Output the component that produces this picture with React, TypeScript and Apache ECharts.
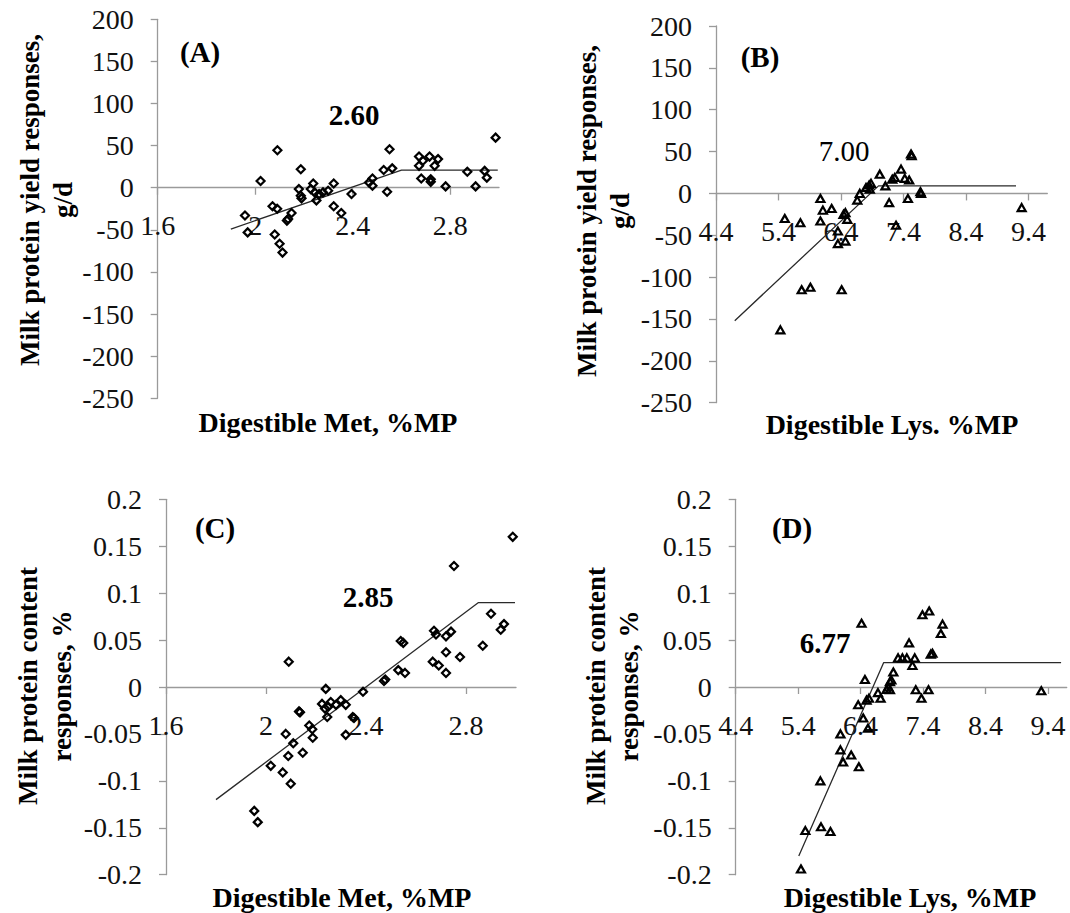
import React, { useEffect, useRef } from "react";
import * as echarts from "echarts";

// (A) Digestible Met vs milk protein yield response (g/d)
const metYieldX = [1.958, 1.969, 2.022, 2.071, 2.09, 2.091, 2.08, 2.1, 2.112, 2.149, 2.135, 2.13, 2.179, 2.187, 2.187, 2.19, 2.238, 2.228, 2.244, 2.251, 2.262, 2.278, 2.299, 2.322, 2.322, 2.353, 2.395, 2.467, 2.481, 2.481, 2.527, 2.541, 2.551, 2.562, 2.672, 2.672, 2.681, 2.688, 2.715, 2.72, 2.72, 2.736, 2.75, 2.781, 2.87, 2.904, 2.941, 2.95, 2.986];
const metYieldY = [-33, -53, 8, -22, -25, 44.5, -55.5, -66.5, -77, -30, -37, -39, -1.6, 22, -9.4, -12.6, 5, -1.6, -5.5, -15, -7.5, -5.5, -3.5, 5, -22, -30, -7.5, 6.3, 11, 2.4, 21, -4.7, 45.7, 23, 37, 26, 11, 32, 37, 10, 7, 26, 34, 1.6, 19, 1.6, 20, 12, 59.5];
const metYieldModelX = [1.9, 2.6, 2.995];
const metYieldModelY = [-49, 21, 21];

// (B) Digestible Lys vs milk protein yield response (g/d)
const lysYieldX = [5.43, 5.5, 5.75, 5.77, 5.91, 6.07, 6.07, 6.11, 6.25, 6.35, 6.35, 6.41, 6.44, 6.47, 6.5, 6.47, 6.66, 6.7, 6.8, 6.85, 6.88, 6.86, 7.02, 7.11, 7.17, 7.22, 7.26, 7.28, 7.36, 7.42, 7.49, 7.47, 7.52, 7.53, 7.68, 7.67, 9.29];
const lysYieldY = [-163, -30, -35, -115, -112, -6, -33, -20, -18, -45, -60, -115, -25, -23, -31, -57, -8, 0, 7, 10, 12, 5, 23, 9, -11, 17, 19, -38, 29, 18, 16, -6, 47, 45, 0, 2, -17];
const lysYieldModelX = [4.7, 7.0, 9.2];
const lysYieldModelY = [-152, 9, 9];

// (C) Digestible Met vs milk protein content response (%)
const metContentX = [1.953, 1.967, 2.019, 2.067, 2.079, 2.089, 2.091, 2.099, 2.109, 2.132, 2.136, 2.147, 2.173, 2.185, 2.187, 2.224, 2.239, 2.236, 2.245, 2.249, 2.259, 2.28, 2.299, 2.319, 2.319, 2.347, 2.352, 2.388, 2.472, 2.477, 2.529, 2.539, 2.549, 2.556, 2.667, 2.672, 2.68, 2.691, 2.72, 2.72, 2.72, 2.74, 2.752, 2.776, 2.867, 2.9, 2.939, 2.952, 2.987];
const metContentY = [-0.132, -0.144, -0.084, -0.091, -0.05, -0.0735, 0.027, -0.103, -0.06, -0.026, -0.027, -0.07, -0.041, -0.045, -0.054, -0.018, -0.002, -0.023, -0.032, -0.021, -0.016, -0.019, -0.014, -0.019, -0.051, -0.032, -0.033, -0.005, 0.0064, 0.008, 0.018, 0.049, 0.047, 0.015, 0.027, 0.06, 0.056, 0.023, 0.054, 0.037, 0.015, 0.059, 0.129, 0.032, 0.044, 0.078, 0.061, 0.067, 0.16];
const metContentModelX = [1.8, 2.85, 2.996];
const metContentModelY = [-0.12, 0.09, 0.09];

// (D) Digestible Lys vs milk protein content response (%)
const lysContentX = [5.445, 5.515, 5.756, 5.766, 5.917, 6.077, 6.077, 6.12, 6.249, 6.372, 6.361, 6.415, 6.442, 6.469, 6.495, 6.517, 6.533, 6.678, 6.72, 6.817, 6.844, 6.87, 6.87, 6.892, 6.924, 7.0, 7.07, 7.14, 7.176, 7.23, 7.267, 7.283, 7.374, 7.39, 7.487, 7.498, 7.524, 7.55, 7.685, 7.712, 9.293];
const lysContentY = [-0.194, -0.153, -0.1, -0.149, -0.154, -0.05, -0.067, -0.08, -0.0725, -0.085, -0.019, 0.068, -0.033, 0.008, -0.014, -0.044, -0.012, -0.006, -0.012, -0.0025, 0, 0.0057, -0.003, 0.0075, 0.016, 0.031, 0.031, 0.031, 0.047, 0.023, 0.031, -0.003, -0.012, 0.077, -0.003, 0.081, 0.035, 0.036, 0.057, 0.067, -0.004];
const lysContentModelX = [5.41, 6.77, 9.61];
const lysContentModelY = [-0.18, 0.026, 0.026];

// Axis ticks
const metTicks = [1.6, 2, 2.4, 2.8];
const lysTicks = [4.4, 5.4, 6.4, 7.4, 8.4, 9.4];

const FONT = "Liberation Serif";

const zip = (xs: number[], ys: number[]) => xs.map((x, i) => [x, ys[i]]);
const fmt = (v: number) => String(Math.round(v * 1000) / 1000);

export default function App() {
  const ref = useRef<HTMLDivElement>(null);

  useEffect(() => {
    if (!ref.current) return;
    const chart = echarts.init(ref.current, null, { renderer: "svg" });

    const gridBoxes = [
      { left: 157.7, top: 19.3, width: 341.3, height: 379 },
      { left: 716, top: 26, width: 331.3, height: 376.7 },
      { left: 166, top: 499.3, width: 350, height: 375.4 },
      { left: 735.7, top: 499.3, width: 331, height: 375.4 },
    ];
    const grids = gridBoxes.map((g) => ({ ...g, containLabel: false, outerBoundsMode: "none" }));

    const axisColor = "#9a9a9a";
    const labelStyle = { color: "#111", fontFamily: FONT, fontSize: 28 };

    const yRanges = [
      [-250, 200, 50],
      [-250, 200, 50],
      [-0.2, 0.2, 0.05],
      [-0.2, 0.2, 0.05],
    ];

    const xAxis = (gridIndex: number, min: number, max: number, ticks: number[]) => {
      const [ymin, ymax] = yRanges[gridIndex];
      // labels of an on-zero axis are laid out from the grid bottom; bring them up under the zero line
      const zeroFromBottom = (gridBoxes[gridIndex].height * (0 - ymin)) / (ymax - ymin);
      return {
        type: "value",
        gridIndex,
        min,
        max,
        axisLine: { show: true, onZero: true, lineStyle: { color: axisColor, width: 1.3 } },
        axisTick: { show: true, length: 7, customValues: ticks, lineStyle: { color: axisColor, width: 1.3 } },
        axisLabel: { ...labelStyle, customValues: ticks, margin: 24 - zeroFromBottom, formatter: fmt },
        splitLine: { show: false },
      };
    };

    const yAxis = (gridIndex: number) => {
      const [min, max, interval] = yRanges[gridIndex];
      return {
        type: "value",
        gridIndex,
        min,
        max,
        interval,
        axisLine: { show: true, onZero: false, lineStyle: { color: axisColor, width: 1.3 } },
        axisTick: { show: true, length: 7, lineStyle: { color: axisColor, width: 1.3 } },
        axisLabel: { ...labelStyle, margin: 24, formatter: fmt },
        splitLine: { show: false },
      };
    };

    const scatter = (i: number, data: number[][], symbol: string, size: any) => ({
      type: "scatter",
      xAxisIndex: i,
      yAxisIndex: i,
      data,
      symbol,
      symbolSize: size,
      itemStyle: { color: "rgba(255,255,255,0)", borderColor: "#000", borderWidth: 2.2, opacity: 1 },
      z: 3,
    });

    const model = (i: number, data: number[][]) => ({
      type: "line",
      xAxisIndex: i,
      yAxisIndex: i,
      data,
      symbol: "none",
      lineStyle: { color: "#2a2a2a", width: 1.3 },
      z: 2,
    });

    const text = (
      x: number,
      y: number,
      t: string,
      size: number,
      weight: string,
      rotation = 0,
      lineHeight?: number
    ) => ({
      type: "text",
      x,
      y,
      rotation,
      style: {
        text: t,
        fontFamily: FONT,
        fontSize: size,
        fontWeight: weight,
        fill: "#000",
        align: "center",
        verticalAlign: "middle",
        textAlign: "center",
        textVerticalAlign: "middle",
        lineHeight: lineHeight || size * 1.2,
      },
    });

    chart.setOption({
      animation: false,
      backgroundColor: "#fff",
      textStyle: { fontFamily: FONT },
      grid: grids,
      xAxis: [
        xAxis(0, 1.6, 3.0, metTicks),
        xAxis(1, 4.4, 9.7, lysTicks),
        xAxis(2, 1.6, 3.0, metTicks),
        xAxis(3, 4.4, 9.7, lysTicks),
      ],
      yAxis: [yAxis(0), yAxis(1), yAxis(2), yAxis(3)],
      series: [
        model(0, zip(metYieldModelX, metYieldModelY)),
        scatter(0, zip(metYieldX, metYieldY), "diamond", 8),
        model(1, zip(lysYieldModelX, lysYieldModelY)),
        scatter(1, zip(lysYieldX, lysYieldY), "triangle", [8, 7]),
        model(2, zip(metContentModelX, metContentModelY)),
        scatter(2, zip(metContentX, metContentY), "diamond", 8),
        model(3, zip(lysContentModelX, lysContentModelY)),
        scatter(3, zip(lysContentX, lysContentY), "triangle", [8, 7]),
      ],
      graphic: [
        text(46, 200, "Milk protein yield responses,\ng/d", 27, "bold", Math.PI / 2, 33),
        text(603, 211, "Milk protein yield responses,\ng/d", 27, "bold", Math.PI / 2, 33),
        text(45, 686, "Milk protein content\nresponses, %", 27, "bold", Math.PI / 2, 34),
        text(612, 686, "Milk protein content\nresponses, %", 27, "bold", Math.PI / 2, 33),
        text(328, 422, "Digestible Met, %MP", 28, "bold"),
        text(892, 424, "Digestible Lys. %MP", 28, "bold"),
        text(342, 897, "Digestible Met, %MP", 28, "bold"),
        text(910, 897, "Digestible Lys, %MP", 28, "bold"),
        text(200, 52, "(A)", 29, "bold"),
        text(354, 115, "2.60", 29, "bold"),
        text(760, 57, "(B)", 29, "bold"),
        text(844, 151, "7.00", 29, "normal"),
        text(215, 528, "(C)", 29, "bold"),
        text(368, 597, "2.85", 29, "bold"),
        text(792, 528, "(D)", 29, "bold"),
        text(825, 643, "6.77", 29, "bold"),
      ],
    });

    return () => chart.dispose();
  }, []);

  return (
    <div
      ref={ref}
      style={{ position: "absolute", left: 0, top: 0, width: 1070, height: 913 }}
    />
  );
}
